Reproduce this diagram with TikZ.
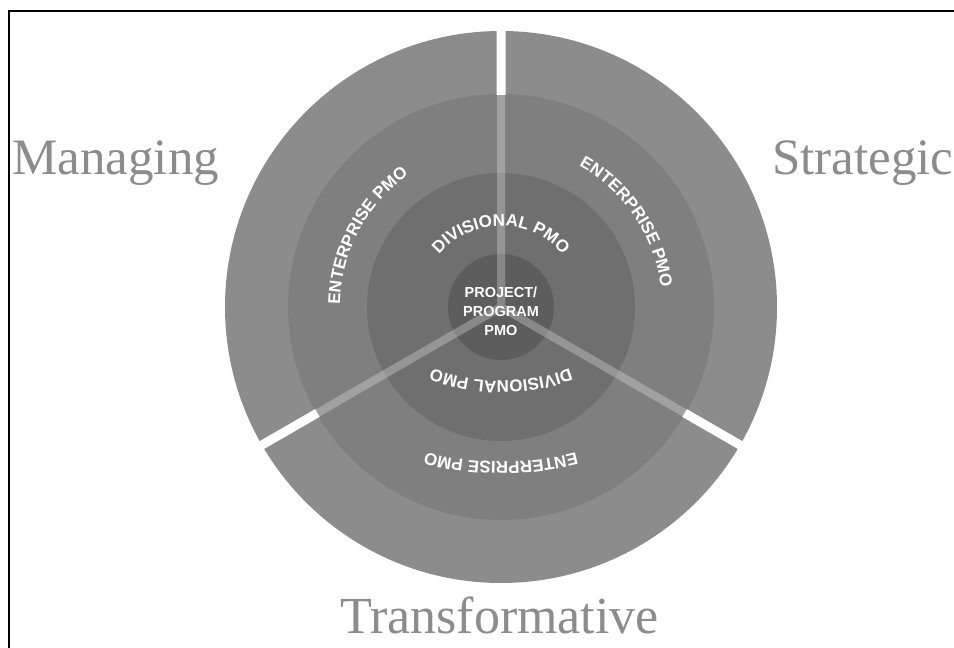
\documentclass[tikz,border=0pt]{standalone}
\usepackage{fontspec}
\setmainfont{Liberation Serif}
\newfontfamily\labsans{Liberation Sans}
\usetikzlibrary{decorations.text,calc}
\definecolor{ringA}{HTML}{8C8C8C}
\definecolor{ringB}{HTML}{7F7F7F}
\definecolor{ringC}{HTML}{6F6F6F}
\definecolor{ringD}{HTML}{5D5D5D}
\definecolor{wordgray}{HTML}{8C8C8C}
\begin{document}
\begin{tikzpicture}[x=1pt,y=1pt,
  bigword/.style={font=\fontsize{51}{60}\selectfont, text=wordgray, anchor=base west, inner sep=0pt},
  coretext/.style={font=\labsans\bfseries\fontsize{14.5}{19}\selectfont, text=white, align=center, inner sep=0pt},
  curvetext/.style={decorate, decoration={text along path, text align=center,
     text={|\color{white}\labsans\bfseries\fontsize{17}{18}\selectfont|#1}}},
  gapline/.style={white, line width=9pt},
  ghostline/.style={white, opacity=.27, line width=8pt}
]
\useasboundingbox (0,0) rectangle (954,648);
\clip (0,0) rectangle (954,648);
\fill[white] (0,0) rectangle (954,648);
% frame (top and left edges)
\draw[black, line width=2pt] (9,0) -- (9,637) -- (954,637);

\coordinate (c) at (501,341);
\fill[ringA] (c) circle[radius=276pt];
\fill[ringB] (c) circle[radius=213pt];
\fill[ringC] (c) circle[radius=134pt];
\fill[ringD] (c) circle[radius=53pt];

% separators
\draw[gapline] ($(c)+(90:212)$) -- ($(c)+(90:282)$)
               ($(c)+(210:212)$) -- ($(c)+(210:282)$)
               ($(c)+(330:212)$) -- ($(c)+(330:282)$);
\draw[ghostline] (c) -- ($(c)+(90:213)$)
                 (c) -- ($(c)+(210:213)$)
                 (c) -- ($(c)+(330:213)$);

% curved labels
\path[curvetext={ENTERPRISE PMO}] ($(c)+(212:161)$) arc[start angle=212, end angle=92, radius=161pt];
\path[curvetext={ENTERPRISE PMO}] ($(c)+(94:161)$) arc[start angle=94, end angle=-26, radius=161pt];
\coordinate (cb1) at (501,486);
\path[curvetext={ENTERPRISE PMO}] ($(cb1)+(300:300)$) arc[start angle=300, end angle=240, radius=300pt];
\path[curvetext={DIVISIONAL PMO}] ($(c)+(180:81)$) arc[start angle=180, end angle=0, radius=81pt];
\coordinate (cb2) at (501,467);
\path[curvetext={DIVISIONAL PMO}] ($(cb2)+(300:200)$) arc[start angle=300, end angle=240, radius=200pt];

\node[coretext] (core) at (501,337) {PROJECT/\\PROGRAM\\PMO};

\node[bigword] (managing) at (12,473) {Managing};
\node[bigword] (strategic) at (772,473) {Strategic};
\node[bigword, font=\fontsize{52}{60}\selectfont] (transformative) at (340,14) {Transformative};
\end{tikzpicture}
\end{document}
